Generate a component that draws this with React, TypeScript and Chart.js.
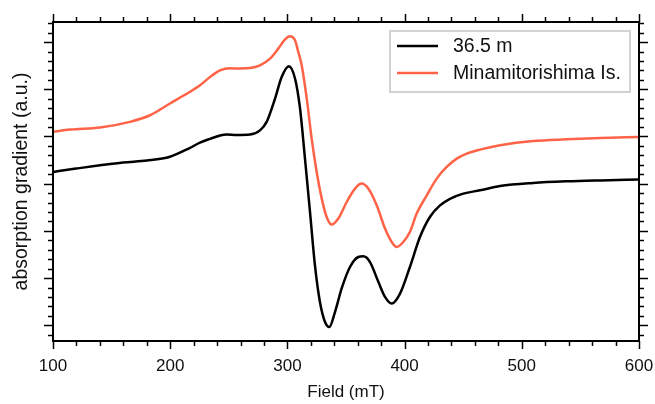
import React, { useEffect, useRef } from "react";
import { Chart, registerables } from "chart.js";

Chart.register(...registerables);

// Field (mT) and absorption gradient (a.u.) for the 36.5 m sample
const fieldDeep = [100, 119.6, 140.1, 159.7, 180.2, 199.8, 216.9, 225.4, 234, 242.5, 248.2, 256.7, 268.1, 276.6, 282.3, 289.4, 295.1, 301.2, 306.5, 310.8, 315, 319.3, 323.5, 327.8, 332.1, 335.8, 340.6, 346.3, 353.4, 360.5, 364.8, 370.5, 377.6, 383.3, 389, 396.1, 404.6, 413.1, 421.7, 430.2, 438.7, 450.1, 464.3, 481.4, 509.6, 538.3, 567.1, 600];
const gradDeep = [3.25, 3.32, 3.39, 3.45, 3.49, 3.57, 3.76, 3.87, 3.95, 4.02, 4.04, 4.03, 4.04, 4.13, 4.31, 4.8, 5.26, 5.49, 5.23, 4.59, 3.53, 2.4, 1.27, 0.49, 0.07, -0.036, 0.28, 0.78, 1.235, 1.447, 1.462, 1.34, 0.92, 0.6, 0.46, 0.67, 1.24, 1.87, 2.3, 2.54, 2.68, 2.79, 2.86, 2.95, 3.015, 3.05, 3.07, 3.087];

// Field (mT) and absorption gradient (a.u.) for Minamitorishima Is.
const fieldIsland = [100, 114.5, 140.1, 165.7, 182.8, 199.8, 216.9, 225.4, 234, 242.5, 251, 259.6, 268.1, 276.6, 285.2, 292.2, 298, 302.2, 306.5, 309.3, 312.2, 316.5, 320.7, 325, 329.3, 333.5, 337.8, 343.4, 350.6, 357.7, 363.4, 369, 376.2, 383.3, 389, 393.3, 398.9, 404.6, 410.3, 418.9, 427.4, 435.9, 444.5, 453, 464.3, 481.4, 509.6, 538.3, 567.1, 600];
const gradIsland = [4.1, 4.146, 4.19, 4.31, 4.45, 4.7, 4.947, 5.085, 5.26, 5.4, 5.445, 5.44, 5.45, 5.508, 5.65, 5.862, 6.059, 6.123, 6.038, 5.79, 5.508, 4.803, 3.956, 3.248, 2.684, 2.294, 2.133, 2.261, 2.612, 2.896, 3.002, 2.896, 2.542, 2.049, 1.765, 1.659, 1.765, 1.98, 2.367, 2.754, 3.108, 3.354, 3.532, 3.638, 3.722, 3.814, 3.905, 3.941, 3.968, 3.989];

const seriesLabels = ["36.5 m", "Minamitorishima Is."];
const seriesColors = ["#000000", "#ff6347"];

const xMin = 100;
const xMax = 600;
const xMajorStep = 100;
const xMinorStep = 20;
const yMin = -0.333;
const yMax = 6.426;
const yMajorStep = 1;
const yMinorStep = 0.2;

const xTitle = "Field (mT)";
const yTitle = "absorption gradient (a.u.)";

const FONT = "'Liberation Sans', Arial, sans-serif";

const framePlugin = {
  id: "frameTicks",
  afterDraw(chart: any) {
    const { ctx, chartArea, scales } = chart;
    const { left, right, top, bottom } = chartArea;
    const xs = scales.x;
    const ys = scales.y;
    ctx.save();
    ctx.strokeStyle = "#000";
    ctx.lineWidth = 1.5;
    const seg = (a: number, b: number, c: number, d: number) => {
      ctx.beginPath();
      ctx.moveTo(a, b);
      ctx.lineTo(c, d);
      ctx.stroke();
    };
    const isMajor = (v: number, step: number) => Math.abs(v / step - Math.round(v / step)) < 1e-6;
    const nx = Math.round((xMax - xMin) / xMinorStep);
    for (let i = 0; i <= nx; i++) {
      const v = xMin + i * xMinorStep;
      const L = isMajor(v, xMajorStep) ? 8 : 5;
      const p = Math.round(xs.getPixelForValue(v)) + 0.5;
      seg(p, bottom, p, bottom + L);
      seg(p, top, p, top - L);
    }
    const start = Math.ceil(yMin / yMinorStep - 1e-9);
    const end = Math.floor(yMax / yMinorStep + 1e-9);
    for (let i = start; i <= end; i++) {
      const v = i * yMinorStep;
      const L = isMajor(v, yMajorStep) ? 9 : 5;
      const p = Math.round(ys.getPixelForValue(v)) + 0.5;
      seg(left, p, left - L, p);
      seg(right, p, right + L, p);
    }
    ctx.lineWidth = 2;
    ctx.strokeRect(left, top, right - left, bottom - top);

    // legend
    const bx = 390, by = 31, bw = 240, bh = 61;
    ctx.strokeStyle = "#d3d3d3";
    ctx.lineWidth = 2;
    ctx.fillStyle = "#fff";
    ctx.fillRect(bx, by, bw, bh);
    ctx.strokeRect(bx, by, bw, bh);
    ctx.font = `19.5px ${FONT}`;
    ctx.textBaseline = "middle";
    ctx.textAlign = "left";
    chart.data.datasets.forEach((ds: any, i: number) => {
      const yy = 46 + i * 27;
      ctx.strokeStyle = ds.borderColor;
      ctx.lineWidth = 2.5;
      seg(397, yy, 438, yy);
      ctx.fillStyle = "#111";
      ctx.fillText(ds.label, 453, yy + 1);
    });
    ctx.restore();
  },
};

export default function App() {
  const ref = useRef<HTMLCanvasElement | null>(null);
  useEffect(() => {
    document.body.style.margin = "0";
    const canvas = ref.current;
    if (!canvas) return;
    const mk = (xs: number[], ys: number[]) => xs.map((x, i) => ({ x, y: ys[i] }));
    const chart = new Chart(canvas, {
      type: "line",
      data: {
        datasets: [
          {
            label: seriesLabels[0],
            data: mk(fieldDeep, gradDeep),
            borderColor: seriesColors[0],
            borderWidth: 2.5,
            pointRadius: 0,
            cubicInterpolationMode: "monotone",
          },
          {
            label: seriesLabels[1],
            data: mk(fieldIsland, gradIsland),
            borderColor: seriesColors[1],
            borderWidth: 2.5,
            pointRadius: 0,
            cubicInterpolationMode: "monotone",
          },
        ],
      },
      options: {
        animation: false,
        responsive: false,
        devicePixelRatio: 1,
        layout: { padding: { top: 22, right: 16, left: 0, bottom: 0 } },
        plugins: { legend: { display: false }, tooltip: { enabled: false } },
        scales: {
          x: {
            type: "linear",
            min: xMin,
            max: xMax,
            border: { display: false },
            grid: { display: false, drawTicks: false },
            ticks: {
              stepSize: xMajorStep,
              padding: 15.5,
              color: "#111",
              font: { family: FONT, size: 17 },
              maxRotation: 0,
            },
            title: {
              display: true,
              text: xTitle,
              color: "#111",
              font: { family: FONT, size: 17 },
              padding: { top: 0, bottom: 1.3 },
            },
            afterFit(scale: any) {
              scale.height = 63;
              scale.paddingLeft = 0;
              scale.paddingRight = 0;
            },
          },
          y: {
            type: "linear",
            min: yMin,
            max: yMax,
            border: { display: false },
            grid: { display: false, drawTicks: false },
            ticks: { display: false },
            title: {
              display: true,
              text: yTitle,
              color: "#111",
              font: { family: FONT, size: 19.5 },
              padding: { top: 10.3, bottom: 0 },
            },
            afterFit(scale: any) {
              scale.width = 53;
              scale.paddingTop = 0;
              scale.paddingBottom = 0;
            },
          },
        },
      },
      plugins: [framePlugin],
    } as any);
    return () => chart.destroy();
  }, []);
  return (
    <div style={{ width: 655, height: 404 }}>
      <canvas ref={ref} width={655} height={404} />
    </div>
  );
}
